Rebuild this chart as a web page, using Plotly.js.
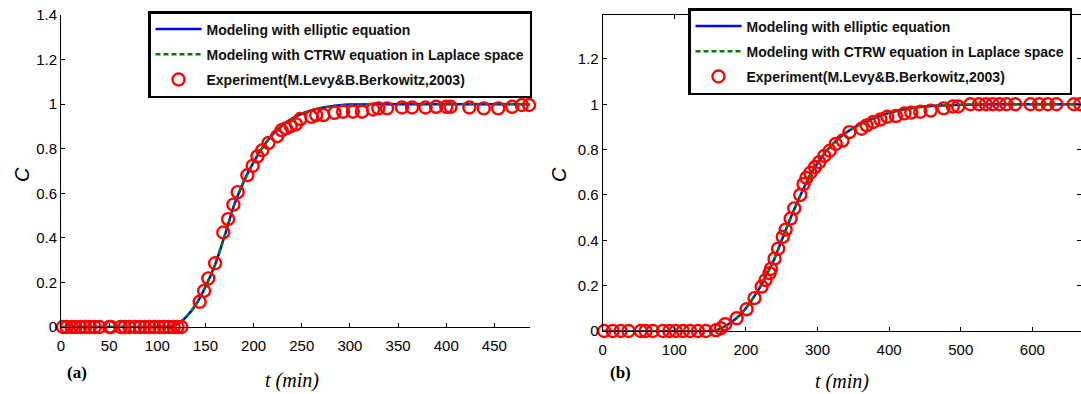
<!DOCTYPE html>
<html>
<head>
<meta charset="utf-8">
<script src="https://cdn.plot.ly/plotly-3.0.1.min.js"></script>
<style>
  html, body { margin: 0; padding: 0; background: #fff; }
  #chart { width: 1081px; height: 394px; }
</style>
</head>
<body>
<div id="chart"></div>
<script>
// ---- Panel (a): breakthrough curve, t in minutes ----
const tA_exp = [2, 6, 11, 15, 20, 25, 30, 35, 40, 50, 52, 62, 66, 71, 77, 82, 87, 92, 97, 102, 107, 112, 117, 121, 125,
  144, 148.6, 153, 160, 168.5, 173.5, 179, 183.5, 193.5, 199, 204, 209, 215.5, 224.5, 229, 233.5, 238.5, 244, 248.5,
  260, 265, 272.5, 284, 293, 303, 312.5, 324, 329.5, 338.5, 354, 364.5, 378.5, 389.5, 400, 404.5, 424, 439, 454,
  468.5, 478.5, 486];
const cA_exp = [0, 0, 0, 0, 0, 0, 0, 0, 0, 0, 0, 0, 0, 0, 0, 0, 0, 0, 0, 0, 0, 0, 0, 0, 0,
  0.113, 0.162, 0.218, 0.286, 0.424, 0.484, 0.549, 0.605, 0.681, 0.723, 0.766, 0.793, 0.826, 0.856, 0.883, 0.891, 0.901, 0.910, 0.933,
  0.943, 0.951, 0.951, 0.961, 0.966, 0.966, 0.966, 0.976, 0.981, 0.981, 0.985, 0.985, 0.985, 0.988, 0.988, 0.988, 0.985, 0.981, 0.981,
  0.988, 0.996, 0.996];

const tA_model = [0, 100, 110, 115, 120, 125, 130, 140, 150, 160, 170, 180, 190, 200, 210, 220, 230, 240, 250, 260, 270, 280, 290, 300, 320, 487];
const cA_elliptic = [0, 0, 0, 0.004, 0.012, 0.025, 0.045, 0.10, 0.18, 0.28, 0.41, 0.55, 0.655, 0.74, 0.81, 0.865, 0.905, 0.935, 0.957, 0.972, 0.983, 0.99, 0.995, 0.998, 1, 1];
const cA_ctrw = [0, 0, 0, 0.004, 0.012, 0.025, 0.045, 0.10, 0.18, 0.28, 0.41, 0.55, 0.655, 0.74, 0.81, 0.865, 0.905, 0.935, 0.957, 0.972, 0.983, 0.99, 0.995, 0.998, 1, 1];

// ---- Panel (b) ----
const tB_exp = [2, 14, 25, 36, 53, 60, 70, 84, 93, 102, 112, 122, 133, 144,
  158, 165, 171, 187, 201, 212, 222, 227.5, 233, 235, 240, 245, 251.5, 255.5, 262.5, 267.5, 276, 280.5, 284.5, 290, 296.5,
  302.5, 309.5, 317, 325.5, 335, 344.5, 361.5, 368.5, 378, 388, 397.5, 409.5, 421.5, 431, 443.5, 458, 476, 489, 496.5,
  513.5, 525.5, 535, 544.5, 554, 564, 576, 597.5, 609.5, 621.5, 633.5, 658, 667];
const cB_exp = [0, 0, 0, 0, 0, 0, 0, 0, 0, 0, 0, 0, 0, 0,
  0.003, 0.012, 0.03, 0.056, 0.096, 0.145, 0.196, 0.225, 0.255, 0.274, 0.319, 0.363, 0.415, 0.447, 0.496, 0.541, 0.600, 0.648, 0.675, 0.698, 0.723,
  0.745, 0.772, 0.795, 0.825, 0.840, 0.877, 0.892, 0.907, 0.922, 0.933, 0.945, 0.948, 0.960, 0.963, 0.967, 0.972, 0.982, 0.990, 0.990,
  1, 1, 1, 1, 1, 1, 1, 1, 1, 1, 1, 1, 1];

const tB_model = [0, 150, 160, 170, 180, 190, 200, 210, 220, 230, 240, 250, 260, 270, 280, 290, 300, 310, 320, 330, 340, 350, 360, 380, 400, 420, 450, 500, 550, 668];
const cB_elliptic = [0, 0, 0.005, 0.02, 0.04, 0.065, 0.10, 0.145, 0.195, 0.255, 0.32, 0.40, 0.48, 0.555, 0.625, 0.69, 0.74, 0.785, 0.82, 0.85, 0.875, 0.895, 0.912, 0.94, 0.962, 0.977, 0.99, 0.998, 1, 1];
const cB_ctrw = [0, 0, 0.005, 0.02, 0.04, 0.065, 0.10, 0.145, 0.195, 0.255, 0.32, 0.40, 0.48, 0.555, 0.625, 0.69, 0.74, 0.785, 0.82, 0.85, 0.875, 0.895, 0.912, 0.94, 0.962, 0.977, 0.99, 0.998, 1, 1];

const names = [
  'Modeling with elliptic equation',
  'Modeling with CTRW equation in Laplace space',
  'Experiment(M.Levy&amp;B.Berkowitz,2003)'
];
const xTicksA = [0, 50, 100, 150, 200, 250, 300, 350, 400, 450];
const xTicksB = [0, 100, 200, 300, 400, 500, 600];
const yTicksA = [0, 0.2, 0.4, 0.6, 0.8, 1, 1.2, 1.4];
const yTicksB = [0, 0.2, 0.4, 0.6, 0.8, 1, 1.2];

const W = 1081, H = 394;
const px = v => v / W;
const py = v => 1 - v / H;

function panelTraces(t, c, ce, cc, tm, xa, ya, leg) {
  return [
    { x: tm, y: ce, xaxis: xa, yaxis: ya, legend: leg, legendgroup: leg + 'a', name: names[0], type: 'scatter', mode: 'lines',
      line: { color: '#0000ff', width: 2.5, shape: 'spline', smoothing: 0.6 } },
    { x: tm, y: cc, xaxis: xa, yaxis: ya, legend: leg, legendgroup: leg + 'b', name: names[1], type: 'scatter', mode: 'lines',
      line: { color: '#008000', width: 2.5, dash: '5px,3px', shape: 'spline', smoothing: 0.6 } },
    { x: t, y: c, xaxis: xa, yaxis: ya, legend: leg, legendgroup: leg + 'c', name: names[2],
      type: 'scatter', mode: 'markers', cliponaxis: false,
      marker: { symbol: 'circle-open', size: 12, color: '#ff0000', line: { color: '#ff0000', width: 2.4 } } }
  ];
}

const data = [
  ...panelTraces(tA_exp, cA_exp, cA_elliptic, cA_ctrw, tA_model, 'x', 'y', 'legend'),
  ...panelTraces(tB_exp, cB_exp, cB_elliptic, cB_ctrw, tB_model, 'x2', 'y2', 'legend2')
];

const tickFont = { family: 'Liberation Sans, Arial, sans-serif', size: 15, color: '#000' };
const axisBase = {
  showgrid: false, zeroline: false, showline: true, linecolor: '#000', linewidth: 1,
  ticks: 'inside', ticklen: 4, tickwidth: 1, tickcolor: '#000', tickfont: tickFont, fixedrange: true
};
const legendBase = {
  bgcolor: '#fff', bordercolor: '#000', borderwidth: 2.5,
  font: { family: 'Liberation Sans, Arial, sans-serif', size: 14, color: '#111', weight: 'bold' },
  itemwidth: 46, tracegroupgap: 4, traceorder: 'grouped',
  xanchor: 'left', yanchor: 'top'
};
const titleFont = { family: 'Liberation Serif, Times New Roman, serif', size: 20, color: '#000', style: 'italic' };
const cFont = { family: 'Liberation Sans, Arial, sans-serif', size: 20, color: '#000', style: 'italic' };
const tagFont = { family: 'Liberation Serif, Times New Roman, serif', size: 17, color: '#000', weight: 'bold' };

function note(text, x, y, font, angle) {
  return { text: text, xref: 'paper', yref: 'paper', x: px(x), y: py(y), xanchor: 'center', yanchor: 'middle',
    textangle: angle || 0, showarrow: false, font: font };
}

const layout = {
  width: W, height: H,
  margin: { l: 0, r: 0, t: 0, b: 0, autoexpand: false },
  paper_bgcolor: '#fff', plot_bgcolor: '#fff',
  showlegend: true,
  xaxis: Object.assign({}, axisBase, { domain: [px(61), px(530)], range: [0, 487], tickvals: xTicksA, anchor: 'y', ticklabelstandoff: 5 }),
  yaxis: Object.assign({}, axisBase, { domain: [py(327), py(15)], range: [0, 1.4], tickvals: yTicksA, anchor: 'x' }),
  xaxis2: Object.assign({}, axisBase, { domain: [px(602.7), 1], range: [0, 668], tickvals: xTicksB, anchor: 'y2', mirror: 'ticks', ticklabelstandoff: 5 }),
  yaxis2: Object.assign({}, axisBase, { domain: [py(331), py(14.7)], range: [0, 1.395], tickvals: yTicksB, anchor: 'x2', mirror: 'ticks' }),
  legend: Object.assign({}, legendBase, { x: px(148), y: py(11) }),
  legend2: Object.assign({}, legendBase, { x: px(688), y: py(8) }),
  annotations: [
    note('C', 22, 175, cFont, -90),
    note('C', 559, 175, cFont, -90),
    note('t (min)', 292, 380, titleFont),
    note('t (min)', 842, 381, titleFont),
    note('(a)', 77, 372, tagFont),
    note('(b)', 620, 372, tagFont)
  ]
};

Plotly.newPlot('chart', data, layout, { staticPlot: true, displayModeBar: false });
</script>
</body>
</html>
